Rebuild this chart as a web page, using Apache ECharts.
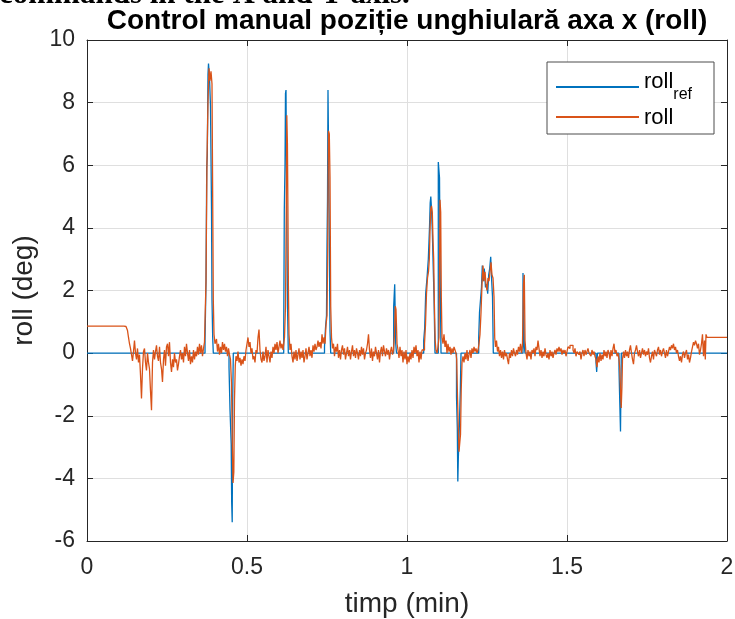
<!DOCTYPE html>
<html><head><meta charset="utf-8">
<script src="https://cdn.jsdelivr.net/npm/echarts@6/dist/echarts.min.js"></script>
<style>html,body{margin:0;padding:0;background:#fff}#c{width:735px;height:619px}</style>
</head><body><div id="c"></div>
<script>
// ---- data ----
const titleText = 'Control manual poziție unghiulară axa x (roll)';
const clippedCaption = 'commands in the X and Y axis.';
const xLabel = 'timp (min)';
const yLabel = 'roll (deg)';
const xTickValues = [0, 0.5, 1, 1.5, 2];
const xTickLabels = ['0', '0.5', '1', '1.5', '2'];
const yTickValues = [-6, -4, -2, 0, 2, 4, 6, 8, 10];
const yTickLabels = ['-6', '-4', '-2', '0', '2', '4', '6', '8', '10'];

// roll_ref (reference, sample-and-hold)
const refTime = [0, 0.3688, 0.3719, 0.3741, 0.3759, 0.3781, 0.3797, 0.3828, 0.3859, 0.3891,
 0.3906, 0.3928, 0.3947, 0.4438, 0.4469, 0.4506, 0.4522, 0.4538, 0.4553, 0.4572,
 0.6147, 0.6166, 0.6188, 0.6203, 0.6219, 0.6241, 0.6266, 0.6291, 0.7422, 0.7453,
 0.7484, 0.75, 0.7516, 0.7531, 0.7556, 0.7594, 0.7616, 0.9584, 0.9616, 0.9647,
 0.9672, 1.0522, 1.0553, 1.0584, 1.0625, 1.0666, 1.0703, 1.0725, 1.0744, 1.0766,
 1.0791, 1.0813, 1.0844, 1.0875, 1.0978, 1.1016, 1.1041, 1.1063, 1.1547, 1.1572,
 1.1588, 1.1603, 1.1634, 1.1666, 1.1688, 1.2241, 1.2266, 1.2328, 1.2353, 1.2384,
 1.2416, 1.2453, 1.2491, 1.2522, 1.2553, 1.2584, 1.2616, 1.2647, 1.2672, 1.2697,
 1.3625, 1.3666, 1.3688, 1.5906, 1.5928, 1.5953, 1.6625, 1.665, 1.6672, 1.6697,
 2.0];
const refDeg = [0, 0.4, 2.3, 5.9, 6.3, 8.9, 9.25, 8.8, 7.9, 4.6,
 1.7, 0.5, 0, -0.45, -1.8, -2.9, -4.8, -5.4, -1.5, 0,
 0.6, 4.6, 6.0, 8.3, 8.4, 4.6, 1.5, 0, 0.2, 0.8,
 1.2, 3.4, 4.9, 8.4, 5.7, 0.7, 0, 1.5, 2.2, 0.3,
 0, 0.4, 0.8, 1.9, 2.4, 3.0, 4.0, 4.8, 5.0, 4.6,
 3.9, 3.0, 1.8, 0, 6.1, 5.6, 2.1, 0, -1.4, -2.4,
 -4.1, -3.4, -2.4, -1.2, 0, 0.5, 1.3, 2.1, 2.8, 2.3,
 2.7, 2.1, 2.2, 1.9, 2.5, 2.7, 3.08, 2.3, 1.8, 0,
 2.56, 0.2, 0, -0.3, -0.6, 0, -0.5, -1.6, -2.5, 0,
 0];

// roll (measured)
const rollTime = [
 0, 0.0938, 0.0969, 0.1, 0.1156, 0.1219, 0.1266, 0.1297, 0.1328, 0.1359,
 0.1391, 0.1422, 0.1453, 0.1484, 0.1516, 0.1547, 0.1578, 0.1609, 0.1641, 0.1672,
 0.1703, 0.1734, 0.1766, 0.1797, 0.1828, 0.1859, 0.1891, 0.1922, 0.1953, 0.1984,
 0.2016, 0.2047, 0.2078, 0.2109, 0.2141, 0.2172, 0.2203, 0.2234, 0.2266, 0.2297,
 0.2328, 0.2359, 0.2391, 0.2422, 0.2453, 0.2484, 0.2516, 0.2547, 0.2578, 0.2609,
 0.2641, 0.2672, 0.2703, 0.2734, 0.2766, 0.2797, 0.2828, 0.2859, 0.2891, 0.2922,
 0.2953, 0.2984, 0.3016, 0.3047, 0.3078, 0.3109, 0.3141, 0.3172, 0.3203, 0.3234,
 0.3266, 0.3297, 0.3328, 0.3359, 0.3391, 0.3422, 0.3453, 0.3484, 0.3516, 0.3547,
 0.3578, 0.3609, 0.3641, 0.3672, 0.3703, 0.3719, 0.375, 0.3781, 0.3813, 0.3844,
 0.3875, 0.3906, 0.3947, 0.3969, 0.4, 0.4047, 0.4078, 0.4109, 0.4141, 0.4172,
 0.4203, 0.4234, 0.4266, 0.4297, 0.4328, 0.4359, 0.4391, 0.4422, 0.4453, 0.4484,
 0.4516, 0.4541, 0.4563, 0.4588, 0.4609, 0.4634, 0.4656, 0.4688, 0.4719, 0.475,
 0.4781, 0.4813, 0.4844, 0.4875, 0.4906, 0.4938, 0.4969, 0.5, 0.5031, 0.5063,
 0.5094, 0.5125, 0.5156, 0.5188, 0.5219, 0.525, 0.5281, 0.5313, 0.5344, 0.5375,
 0.5406, 0.5438, 0.5469, 0.55, 0.5531, 0.5563, 0.5594, 0.5625, 0.5656, 0.5688,
 0.5719, 0.575, 0.5781, 0.5813, 0.5844, 0.5875, 0.5906, 0.5938, 0.5969, 0.6,
 0.6031, 0.6063, 0.6094, 0.6125, 0.6172, 0.6203, 0.6228, 0.6244, 0.6263, 0.6278,
 0.6294, 0.6313, 0.6344, 0.6375, 0.6406, 0.6438, 0.6469, 0.65, 0.6531, 0.6563,
 0.6594, 0.6625, 0.6656, 0.6688, 0.6719, 0.675, 0.6781, 0.6813, 0.6844, 0.6875,
 0.6906, 0.6938, 0.6969, 0.7, 0.7031, 0.7063, 0.7094, 0.7125, 0.7156, 0.7188,
 0.7219, 0.725, 0.7281, 0.7313, 0.7344, 0.7375, 0.7406, 0.7438, 0.7469, 0.75,
 0.7522, 0.7547, 0.7572, 0.7594, 0.7616, 0.7641, 0.7672, 0.7703, 0.7734, 0.7766,
 0.7797, 0.7828, 0.7859, 0.7891, 0.7922, 0.7953, 0.7984, 0.8016, 0.8047, 0.8078,
 0.8109, 0.8141, 0.8172, 0.8203, 0.8234, 0.8266, 0.8297, 0.8328, 0.8359, 0.8391,
 0.8422, 0.8453, 0.8484, 0.8516, 0.8547, 0.8578, 0.8609, 0.8641, 0.8672, 0.8703,
 0.8734, 0.8766, 0.8797, 0.8828, 0.8859, 0.8891, 0.8922, 0.8953, 0.8984, 0.9016,
 0.9047, 0.9078, 0.9109, 0.9141, 0.9172, 0.9203, 0.9234, 0.9266, 0.9297, 0.9328,
 0.9359, 0.9391, 0.9422, 0.9453, 0.9484, 0.9516, 0.9547, 0.9578, 0.9609, 0.9634,
 0.9656, 0.9688, 0.9719, 0.975, 0.9781, 0.9813, 0.9844, 0.9875, 0.9906, 0.9938,
 0.9969, 1.0, 1.0031, 1.0063, 1.0094, 1.0125, 1.0156, 1.0188, 1.0219, 1.025,
 1.0281, 1.0313, 1.0344, 1.0375, 1.0406, 1.0438, 1.0469, 1.05, 1.0547, 1.0578,
 1.0609, 1.0641, 1.0672, 1.0697, 1.0719, 1.0741, 1.0766, 1.0791, 1.0813, 1.0834,
 1.0853, 1.0881, 1.0906, 1.0938, 1.0969, 1.1, 1.1016, 1.1031, 1.1053, 1.1072,
 1.1094, 1.1125, 1.1156, 1.1188, 1.1219, 1.125, 1.1281, 1.1313, 1.1344, 1.1375,
 1.1406, 1.1438, 1.1469, 1.15, 1.1531, 1.1553, 1.1578, 1.1603, 1.1625, 1.1647,
 1.1672, 1.1694, 1.1719, 1.175, 1.1781, 1.1813, 1.1844, 1.1875, 1.1906, 1.1938,
 1.1969, 1.2, 1.2031, 1.2063, 1.2094, 1.2125, 1.2156, 1.2188, 1.2219, 1.225,
 1.2281, 1.2313, 1.2344, 1.2375, 1.2406, 1.2438, 1.2469, 1.25, 1.2531, 1.2563,
 1.2594, 1.2625, 1.2656, 1.2688, 1.2719, 1.2741, 1.2766, 1.2797, 1.2828, 1.2859,
 1.2891, 1.2922, 1.2953, 1.2984, 1.3016, 1.3047, 1.3078, 1.3109, 1.3141, 1.3172,
 1.3203, 1.3234, 1.3266, 1.3297, 1.3328, 1.3359, 1.3391, 1.3422, 1.3453, 1.3484,
 1.3516, 1.3547, 1.3578, 1.3609, 1.3641, 1.3666, 1.3688, 1.3719, 1.375, 1.3781,
 1.3813, 1.3844, 1.3875, 1.3906, 1.3938, 1.3969, 1.4, 1.4031, 1.4063, 1.4094,
 1.4125, 1.4156, 1.4188, 1.4219, 1.425, 1.4281, 1.4313, 1.4344, 1.4375, 1.4406,
 1.4438, 1.4469, 1.45, 1.4531, 1.4563, 1.4594, 1.4625, 1.4656, 1.4688, 1.4719,
 1.475, 1.4781, 1.4813, 1.4844, 1.4875, 1.4906, 1.4938, 1.4969, 1.5, 1.5031,
 1.5063, 1.5094, 1.5125, 1.5156, 1.5188, 1.5219, 1.525, 1.5281, 1.5313, 1.5344,
 1.5375, 1.5406, 1.5438, 1.5469, 1.55, 1.5531, 1.5563, 1.5594, 1.5625, 1.5656,
 1.5688, 1.5719, 1.575, 1.5781, 1.5813, 1.5844, 1.5875, 1.5906, 1.5938, 1.5969,
 1.6, 1.6031, 1.6063, 1.6094, 1.6125, 1.6156, 1.6188, 1.6219, 1.625, 1.6281,
 1.6313, 1.6344, 1.6375, 1.6406, 1.6438, 1.6469, 1.65, 1.6531, 1.6563, 1.6594,
 1.6625, 1.665, 1.6672, 1.6694, 1.6716, 1.6734, 1.6766, 1.6797, 1.6828, 1.6859,
 1.6891, 1.6922, 1.6953, 1.6984, 1.7016, 1.7047, 1.7078, 1.7109, 1.7141, 1.7172,
 1.7203, 1.7234, 1.7266, 1.7297, 1.7328, 1.7359, 1.7391, 1.7422, 1.7453, 1.7484,
 1.7516, 1.7547, 1.7578, 1.7609, 1.7641, 1.7672, 1.7703, 1.7734, 1.7766, 1.7797,
 1.7828, 1.7859, 1.7891, 1.7922, 1.7953, 1.7984, 1.8016, 1.8047, 1.8078, 1.8109,
 1.8141, 1.8172, 1.8203, 1.8234, 1.8266, 1.8297, 1.8328, 1.8359, 1.8391, 1.8422,
 1.8453, 1.8484, 1.8516, 1.8547, 1.8578, 1.8609, 1.8641, 1.8672, 1.8703, 1.8734,
 1.8766, 1.8797, 1.8828, 1.8859, 1.8891, 1.8922, 1.8953, 1.8984, 1.9016, 1.9047,
 1.9078, 1.9109, 1.9141, 1.9172, 1.9203, 1.9234, 1.9266, 1.9297, 1.9322, 1.9344,
 1.9375, 2.0];
const rollDeg = [
 0.86, 0.86, 0.82, 0.86, 0.85, 0.80, 0.72, 0.50, 0.30, 0.15,
 -0.05, -0.25, 0.05, 0.40, 0.0, -0.2, 0.15, -0.3, -0.05, -0.7,
 -1.45, -0.5, 0.05, 0.15, -0.3, -0.55, 0.0, -0.3, -0.5, -1.2,
 -1.82, -0.3, 0.1, -0.2, 0.05, 0.25, -0.1, -0.25, 0.2, -0.3,
 -0.5, -0.92, -0.2, 0.1, -0.4, 0.2, 0.3, -0.1, 0.35, -0.3,
 -0.6, -0.2, -0.45, 0.0, -0.3, -0.2, -0.55, -0.35, -0.1, 0.1,
 -0.2, 0.0, -0.3, 0.2, -0.1, 0.3, 0.0, -0.25, 0.1, -0.35,
 -0.1, -0.3, 0.1, -0.2, 0.05, -0.1, 0.2, -0.05, 0.3, 0.0,
 0.25, -0.1, 0.15, 0.35, 0.3, 2.3, 6.2, 8.0, 9.1, 8.7,
 9.0, 8.6, 1.7, 0.6, 0.3, 0.45, 0.05, 0.3, -0.05, 0.2,
 0.0, 0.35, 0.1, 0.3, 0.05, 0.2, -0.1, 0.15, -0.05, -0.2,
 -1.0, -2.9, -4.15, -3.8, -1.5, -0.4, -0.1, -0.25, 0.05, -0.3,
 -0.15, -0.4, -0.2, -0.35, -0.1, -0.25, 0.1, 0.3, 0.5, 0.2,
 0.35, 0.0, 0.15, -0.2, -0.1, -0.3, 0.1, 0.0, 0.5, 0.75,
 0.1, -0.2, -0.3, 0.05, -0.25, -0.1, 0.2, -0.3, 0.1, -0.1,
 -0.3, 0.05, -0.15, 0.2, 0.0, 0.3, 0.1, 0.35, 0.0, 0.2,
 0.4, 0.15, 0.3, 0.1, 0.5, 1.5, 4.6, 7.6, 6.7, 4.7,
 2.1, 0.6, 0.1, 0.3, -0.1, -0.3, 0.05, -0.2, 0.1, -0.25,
 -0.05, 0.15, -0.2, 0.05, -0.15, 0.1, -0.3, -0.1, 0.15, -0.2,
 0.0, 0.2, -0.1, 0.1, -0.15, 0.25, 0.05, 0.3, 0.1, 0.2,
 0.4, 0.2, 0.35, 0.15, 0.6, 0.3, 0.5, 0.3, 0.9, 1.2,
 3.4, 7.1, 7.0, 5.6, 1.5, 0.5, 0.15, 0.3, -0.1, 0.2,
 0.05, 0.3, -0.15, 0.1, -0.2, 0.1, 0.25, -0.05, 0.15, -0.2,
 0.0, 0.2, -0.1, 0.1, -0.2, 0.05, 0.25, -0.1, 0.1, -0.15,
 0.15, 0.0, -0.2, 0.1, -0.1, 0.2, -0.05, 0.15, -0.2, 0.0,
 0.1, 0.3, 0.6, 0.1, -0.15, 0.15, -0.25, 0.05, -0.1, 0.2,
 0.0, -0.2, 0.1, -0.3, 0.05, 0.2, -0.1, 0.25, 0.05, -0.1,
 0.15, -0.05, 0.1, -0.2, 0.05, 0.2, -0.05, 0.1, 0.6, 1.5,
 1.4, 0.3, 0.1, -0.15, 0.2, -0.1, 0.1, -0.3, 0.05, -0.2,
 0.1, -0.35, -0.1, -0.3, 0.0, -0.2, 0.1, -0.15, 0.2, 0.0,
 0.25, -0.1, 0.1, -0.3, 0.05, -0.2, 0.1, 0.1, 0.3, 0.9,
 1.9, 2.4, 2.6, 3.0, 3.9, 4.6, 4.7, 4.5, 3.6, 3.0,
 1.7, 0.4, 0.1, 0.0, 0.2, 0.5, 2.5, 4.9, 4.5, 1.8,
 0.5, 0.3, 0.6, 0.2, 0.4, 0.0, 0.3, 0.05, 0.2, -0.05,
 0.15, 0.0, 0.2, 0.1, 0.0, -0.2, -1.4, -2.4, -3.15, -3.1,
 -2.6, -1.2, -0.3, -0.1, -0.3, 0.0, -0.2, 0.1, -0.25, -0.05,
 0.1, -0.15, 0.15, 0.0, 0.2, 0.05, 0.15, 0.0, 0.1, 0.3,
 0.6, 1.3, 2.2, 2.8, 2.3, 2.6, 2.2, 2.0, 2.4, 2.3,
 2.6, 2.9, 2.5, 2.4, 1.8, 0.5, 0.2, 0.4, 0.05, 0.2,
 -0.1, 0.1, -0.15, 0.05, -0.2, 0.1, -0.1, 0.0, -0.2, -0.35,
 0.0, -0.15, 0.1, -0.1, 0.15, 0.0, -0.1, 0.1, -0.05, 0.2,
 0.05, 0.3, 0.0, 0.3, 2.2, 2.5, 0.4, 0.0, -0.2, 0.1,
 -0.1, 0.05, -0.2, 0.1, 0.0, 0.15, -0.1, 0.2, 0.1, 0.4,
 0.15, -0.1, 0.1, -0.15, 0.05, -0.1, 0.15, -0.05, -0.15, 0.0,
 -0.2, 0.1, -0.1, 0.05, -0.15, 0.0, 0.1, -0.05, 0.15, 0.05,
 0.2, 0.05, 0.15, -0.05, 0.1, 0.0, 0.1, -0.1, 0.05, 0.2,
 0.15, 0.25, 0.2, 0.25, 0.1, 0.0, 0.15, -0.1, 0.05, 0.1,
 -0.05, 0.05, -0.2, 0.0, 0.1, -0.1, 0.1, -0.05, 0.05, 0.15,
 0.0, 0.05, -0.1, 0.1, -0.05, 0.05, -0.1, -0.2, -0.45, -0.1,
 -0.3, 0.0, -0.25, -0.05, -0.2, 0.1, -0.1, 0.05, -0.15, 0.1,
 0.0, -0.2, 0.1, -0.1, 0.15, 0.3, 0.0, 0.1, -0.1, 0.0,
 -0.2, -0.5, -1.2, -1.75, -1.1, -0.2, 0.05, -0.15, 0.1, -0.1,
 0.05, -0.15, 0.1, 0.25, 0.0, -0.2, -0.35, 0.0, 0.1, 0.25,
 0.05, -0.1, 0.1, -0.15, 0.0, 0.15, -0.05, 0.1, -0.1, 0.05,
 -0.05, 0.15, -0.15, -0.3, -0.1, 0.05, -0.2, 0.1, 0.0, -0.1,
 0.1, 0.2, -0.05, 0.1, -0.1, 0.05, 0.15, 0.0, -0.15, 0.1,
 -0.1, 0.05, 0.2, 0.1, 0.25, 0.15, 0.3, 0.1, 0.2, 0.0,
 0.1, -0.1, -0.25, -0.1, -0.3, -0.05, 0.05, -0.15, 0.0, 0.1,
 -0.2, -0.05, -0.3, -0.15, 0.05, 0.2, 0.35, 0.25, 0.4, 0.3,
 0.15, 0.3, -0.05, 0.1, 0.3, 0.6, -0.1, 0.4, -0.2, 0.6,
 0.5, 0.5];

// ---- chart ----
const FONT = '"Liberation Sans", Arial, Helvetica, sans-serif';
const AX = '#262626';
const refData = refTime.map((t, i) => [t, refDeg[i]]);
const rollData = rollTime.map((t, i) => [t, rollDeg[i]]);

const chart = echarts.init(document.getElementById('c'), null, {renderer: 'canvas'});
const baseAxis = {
  axisLine: {show: true, onZero: false, lineStyle: {color: AX, width: 1}},
  axisTick: {show: true, inside: true, length: 6, lineStyle: {color: AX, width: 1}},
};
chart.setOption({
  animation: false,
  backgroundColor: '#fff',
  title: {
    text: titleText, left: 407, top: 7, textAlign: 'center', padding: 0,
    textStyle: {fontFamily: FONT, fontSize: 28, fontWeight: 'bold', color: '#000'}
  },
  graphic: [{
    type: 'text', left: -1, top: -21, silent: true,
    style: {text: clippedCaption, font: 'bold 31px "Liberation Serif", serif', fill: '#000'}
  }],
  grid: {left: 87, right: 8, top: 40, bottom: 78, containLabel: false, outerBoundsMode: 'none'},
  legend: {
    orient: 'vertical', left: 547, top: 62,
    padding: [9, 22, 5, 9],
    itemWidth: 83, itemHeight: 2, itemGap: 4, icon: 'rect',
    backgroundColor: '#fff', borderColor: '#4d4d4d', borderWidth: 1, borderRadius: 0,
    itemStyle: {borderWidth: 0},
    data: ['roll_ref', 'roll'],
    formatter: n => n === 'roll_ref' ? '{m|roll}{s|ref}' : '{m|roll}',
    textStyle: {
      fontFamily: FONT, fontSize: 22, color: '#000',
      rich: {
        m: {fontFamily: FONT, fontSize: 22, color: '#000', lineHeight: 20, verticalAlign: 'top'},
        s: {fontFamily: FONT, fontSize: 16, color: '#000', padding: [16, 0, 0, 0], verticalAlign: 'top'}
      }
    }
  },
  xAxis: [Object.assign({}, baseAxis, {
    type: 'value', position: 'bottom', min: xTickValues[0], max: xTickValues[xTickValues.length - 1], interval: 0.5,
    name: xLabel, nameLocation: 'middle', nameGap: 49,
    nameTextStyle: {fontFamily: FONT, fontSize: 28, color: AX},
    axisLabel: {fontFamily: FONT, fontSize: 23, color: AX, margin: 15,
      formatter: v => { const i = xTickValues.indexOf(+v.toFixed(2)); return i >= 0 ? xTickLabels[i] : ''; }},
    splitLine: {show: true, lineStyle: {color: '#dfdfdf', width: 1}}
  }), Object.assign({}, baseAxis, {
    type: 'value', position: 'top', min: 0, max: 2, interval: 0.5,
    axisLabel: {show: false}, splitLine: {show: false}
  })],
  yAxis: [Object.assign({}, baseAxis, {
    type: 'value', position: 'left', min: yTickValues[0], max: yTickValues[yTickValues.length - 1], interval: 2,
    name: yLabel, nameLocation: 'middle', nameGap: 44,
    nameTextStyle: {fontFamily: FONT, fontSize: 28, color: AX},
    axisLabel: {fontFamily: FONT, fontSize: 23, color: AX, margin: 12,
      formatter: v => { const i = yTickValues.indexOf(v); return i >= 0 ? yTickLabels[i] : ''; }},
    splitLine: {show: true, lineStyle: {color: '#dfdfdf', width: 1}}
  }), Object.assign({}, baseAxis, {
    type: 'value', position: 'right', min: -6, max: 10, interval: 2,
    axisLabel: {show: false}, splitLine: {show: false}
  })],
  series: [
    {name: 'roll_ref', type: 'line', step: 'end', data: refData, showSymbol: false, symbol: 'none',
     xAxisIndex: 0, yAxisIndex: 0, color: '#0072BD', itemStyle: {color: '#0072BD'},
     lineStyle: {color: '#0072BD', width: 1.3}, z: 2},
    {name: 'roll', type: 'line', step: 'end', data: rollData, showSymbol: false, symbol: 'none',
     xAxisIndex: 0, yAxisIndex: 0, color: '#D95319', itemStyle: {color: '#D95319'},
     lineStyle: {color: '#D95319', width: 1.3}, z: 3}
  ]
});
</script>
</body></html>
